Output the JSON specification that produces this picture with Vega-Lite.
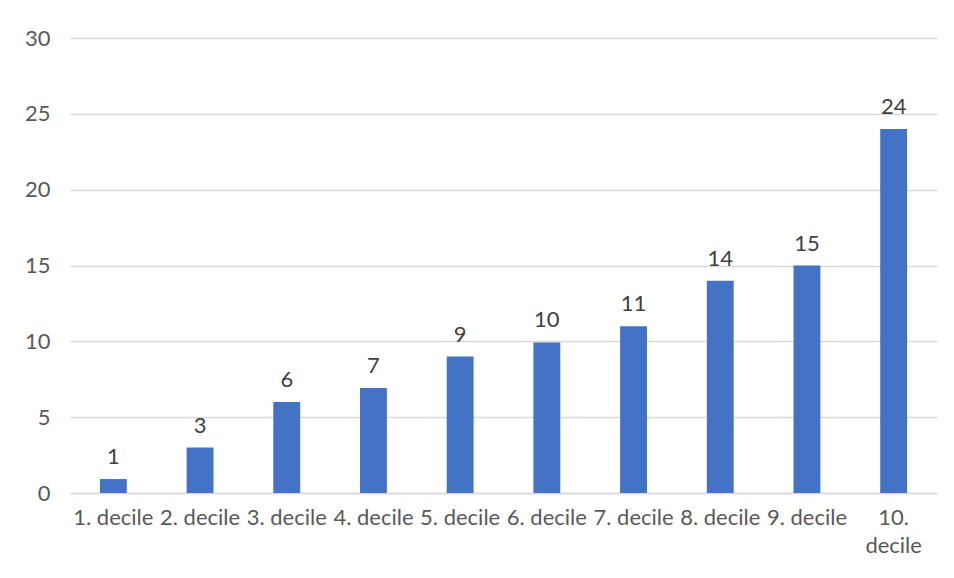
{
  "$schema": "https://vega.github.io/schema/vega-lite/v6.json",
  "autosize": {"type": "none"},
  "width": 867,
  "height": 455,
  "padding": {"left": 70, "top": 38, "right": 17, "bottom": 85},
  "background": "white",
  "config": {
    "view": {"stroke": null},
    "font": "Lato"
  },
  "data": {
    "values": [
      {"decile": "1. decile", "value": 0.92},
      {"decile": "2. decile", "value": 3},
      {"decile": "3. decile", "value": 6},
      {"decile": "4. decile", "value": 6.92},
      {"decile": "5. decile", "value": 9},
      {"decile": "6. decile", "value": 9.93},
      {"decile": "7. decile", "value": 11},
      {"decile": "8. decile", "value": 14},
      {"decile": "9. decile", "value": 15},
      {"decile": "10. decile", "value": 24}
    ]
  },
  "encoding": {
    "x": {
      "field": "decile",
      "type": "nominal",
      "sort": null,
      "scale": {"paddingInner": 0.69, "paddingOuter": 0.345},
      "axis": {
        "title": null,
        "labelAngle": 0,
        "labelFontSize": 22,
        "labelColor": "#595959",
        "labelPadding": 14,
        "labelLineHeight": 28,
        "labelExpr": "datum.label == '10. decile' ? ['10.', 'decile'] : datum.label",
        "ticks": false,
        "domainColor": "#d9d9d9",
        "domainWidth": 1.5,
        "grid": false
      }
    },
    "y": {
      "field": "value",
      "type": "quantitative",
      "scale": {"domain": [0, 30], "nice": false},
      "axis": {
        "title": null,
        "values": [0, 5, 10, 15, 20, 25, 30],
        "labelFontSize": 22,
        "labelColor": "#595959",
        "labelPadding": 20,
        "ticks": false,
        "domain": false,
        "gridColor": "#d9d9d9",
        "gridWidth": 1.5
      }
    }
  },
  "layer": [
    {"mark": {"type": "bar", "color": "#4472C4"}},
    {
      "mark": {"type": "text", "baseline": "bottom", "dy": -10, "fontSize": 22, "color": "#404040"},
      "encoding": {"text": {"field": "value", "type": "quantitative", "format": ".0f"}}
    }
  ]
}
